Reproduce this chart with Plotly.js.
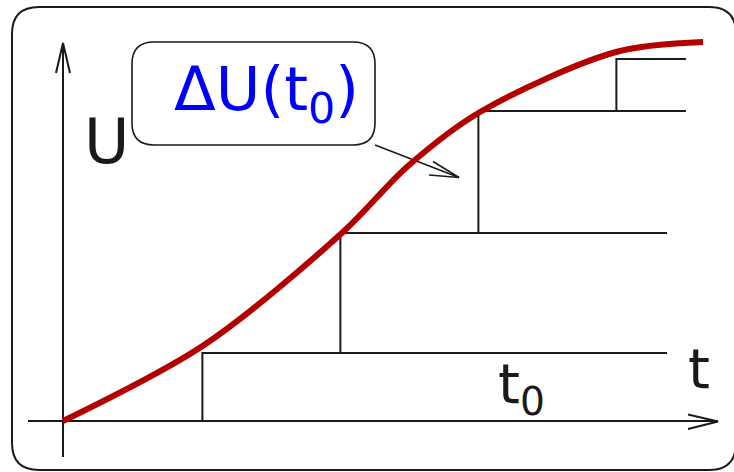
<!DOCTYPE html>
<html>
<head>
<meta charset="utf-8">
<script src="https://cdn.plot.ly/plotly-3.0.1.min.js"></script>
<style>html,body{margin:0;padding:0;background:#fff;}#chart{width:734px;height:472px;}</style>
</head>
<body>
<div id="chart"></div>
<script>
// ---- data (t in step units, U in level units) ----
const curveT = [0, 1.022, 2.029, 2.5, 3.022, 4.007, 4.638];
const curveU = [0, 0.76, 1.89, 2.55, 3.09, 3.69, 3.79];
const stepT = [1.01, 2.01, 3.01, 4.01];
const stepU = [0.68, 1.88, 3.10, 3.62];
const stepEnd = [4.377, 4.377, 4.514, 4.514];
const labelU = "U";
const labelT = "t";
const labelT0 = "t<sub>0</sub>";
const labelDelta = "ΔU(t<sub>0</sub>)";

// ---- pixel helpers for decorations ----
const OX = 63, OY = 421, SX = 138, SY = 100;
const X = p => (p - OX) / SX;
const Y = p => (OY - p) / SY;

// steps trace
const sx = [], sy = [];
for (let i = 0; i < stepT.length; i++) {
  const base = i === 0 ? 0 : stepU[i - 1];
  sx.push(stepT[i], stepT[i], stepEnd[i], null);
  sy.push(base, stepU[i], stepU[i], null);
}

function roundRect(x0, y0, x1, y1, r) {
  const P = (a, b) => X(a) + ',' + Y(b);
  return 'M' + P(x0 + r, y0) + ' L' + P(x1 - r, y0) + ' Q' + P(x1, y0) + ' ' + P(x1, y0 + r) +
    ' L' + P(x1, y1 - r) + ' Q' + P(x1, y1) + ' ' + P(x1 - r, y1) +
    ' L' + P(x0 + r, y1) + ' Q' + P(x0, y1) + ' ' + P(x0, y1 - r) +
    ' L' + P(x0, y0 + r) + ' Q' + P(x0, y0) + ' ' + P(x0 + r, y0) + ' Z';
}

const black = '#1a1a1a';
const lineSeg = (pts, w) => ({
  type: 'scatter', mode: 'lines', hoverinfo: 'skip', showlegend: false,
  x: pts.map(p => p === null ? null : X(p[0])),
  y: pts.map(p => p === null ? null : Y(p[1])),
  line: {color: black, width: w}
});

const traces = [
  lineSeg([[28, 421], [718, 421], null, [688, 414.5], [718, 421.5], [688, 429]], 2),
  lineSeg([[63, 457], [63, 43], null, [56, 73], [63, 43], [70, 73]], 2),
  lineSeg([[375, 145], [459, 177.5], null, [433, 161.5], [459, 177.5], [429, 175]], 1.6),
  {
    type: 'scatter', mode: 'lines', hoverinfo: 'skip', showlegend: false,
    x: sx, y: sy, line: {color: black, width: 2}
  },
  {
    type: 'scatter', mode: 'lines', hoverinfo: 'skip', showlegend: false,
    x: curveT, y: curveU, line: {color: '#b30000', width: 6, shape: 'spline', smoothing: 0.9}
  }
];

const fontFam = '"DejaVu Sans", "Noto Sans", sans-serif';
const layout = {
  width: 734, height: 472,
  margin: {l: 0, r: 0, t: 0, b: 0, pad: 0},
  paper_bgcolor: '#fff', plot_bgcolor: '#fff',
  showlegend: false,
  xaxis: {range: [X(0), X(734)], visible: false, fixedrange: true},
  yaxis: {range: [Y(472), Y(0)], visible: false, fixedrange: true},
  shapes: [
    {type: 'path', xref: 'x', yref: 'y', path: roundRect(12, 7, 736, 470, 27), line: {color: black, width: 2}},
    {type: 'path', xref: 'x', yref: 'y', path: roundRect(132, 42, 375, 145, 22), line: {color: black, width: 1.6}, fillcolor: 'rgba(255,255,255,0)'}
  ],
  annotations: [
    {x: X(106), y: Y(141), xref: 'x', yref: 'y', text: labelU, showarrow: false,
     font: {family: fontFam, size: 62, color: black}, xanchor: 'center', yanchor: 'middle'},
    {x: X(699), y: Y(368), xref: 'x', yref: 'y', text: labelT, showarrow: false,
     font: {family: fontFam, size: 56, color: black}, xanchor: 'center', yanchor: 'middle'},
    {x: X(521), y: Y(387), xref: 'x', yref: 'y', text: labelT0, showarrow: false,
     font: {family: fontFam, size: 56, color: black}, xanchor: 'center', yanchor: 'middle'},
    {x: X(266), y: Y(93), xref: 'x', yref: 'y', text: labelDelta, showarrow: false,
     font: {family: fontFam, size: 61, color: '#0000ff'}, xanchor: 'center', yanchor: 'middle'}
  ]
};

Plotly.newPlot('chart', traces, layout, {displayModeBar: false});
</script>
</body>
</html>
